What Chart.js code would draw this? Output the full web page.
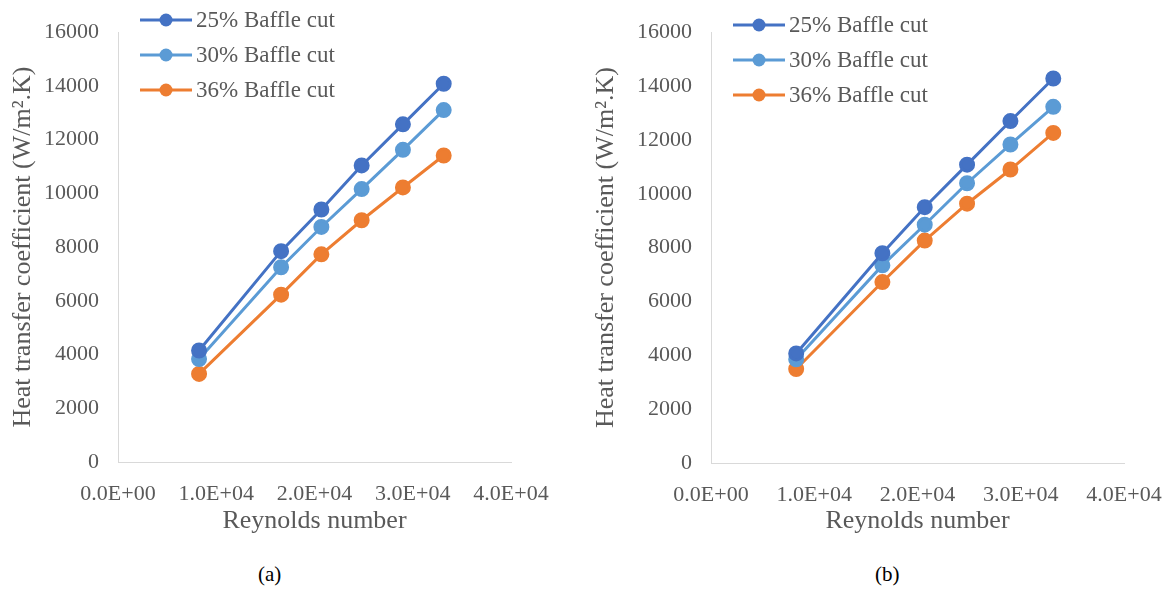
<!DOCTYPE html>
<html>
<head>
<meta charset="utf-8">
<script src="https://cdn.jsdelivr.net/npm/chart.js@4.4.0/dist/chart.umd.min.js"></script>
<style>
  body { margin: 0; background: #fff; width: 1171px; height: 592px; overflow: hidden; position: relative; }
  .box { position: absolute; top: 0; height: 545px; }
  #boxA { left: 0; width: 580px; }
  #boxB { left: 580px; width: 591px; }
  .cap { position: absolute; top: 562px; font: 21px "Liberation Serif", serif; color: #000; }
</style>
</head>
<body>
<div class="box" id="boxA"><canvas id="chartA"></canvas></div>
<div class="box" id="boxB"><canvas id="chartB"></canvas></div>
<div class="cap" style="left:258px">(a)</div>
<div class="cap" style="left:875px">(b)</div>
<script>
// data
const seriesNames = ["25% Baffle cut", "30% Baffle cut", "36% Baffle cut"];
const reynolds = [8250, 16600, 20700, 24800, 29000, 33150];

// (a)
const a25 = [4150, 7850, 9400, 11040, 12570, 14080];
const a30 = [3830, 7250, 8750, 10160, 11620, 13100];
const a36 = [3280, 6230, 7730, 9000, 10220, 11410];

// (b)
const b25 = [4070, 7790, 9500, 11080, 12700, 14280];
const b30 = [3850, 7340, 8850, 10390, 11830, 13230];
const b36 = [3490, 6720, 8260, 9630, 10900, 12260];

const xTicks = [0, 10000, 20000, 30000, 40000];
const colors = ["#4472C4", "#5B9BD5", "#ED7D31"];
const textGray = "#595959";
const serif = "'Liberation Serif', 'Times New Roman', serif";

function toPoints(ys) {
  return reynolds.map((x, i) => ({ x: x, y: ys[i] }));
}

// legend drawn inside the plot, Excel style
const insideLegend = {
  id: "insideLegend",
  afterDraw(chart, args, opts) {
    const ctx = chart.ctx;
    ctx.save();
    chart.data.datasets.forEach((ds, i) => {
      const y = opts.y + i * opts.gap;
      ctx.strokeStyle = ds.borderColor;
      ctx.lineWidth = 3;
      ctx.beginPath();
      ctx.moveTo(opts.x, y);
      ctx.lineTo(opts.x + 52, y);
      ctx.stroke();
      ctx.fillStyle = ds.borderColor;
      ctx.beginPath();
      ctx.arc(opts.x + 26, y, 6.5, 0, Math.PI * 2);
      ctx.fill();
      ctx.fillStyle = textGray;
      ctx.font = "23px " + serif;
      ctx.textBaseline = "middle";
      ctx.fillText(ds.label, opts.x + 56, y + 1);
    });
    ctx.restore();
  },
};

function makeChart(id, data, geo) {
  return new Chart(document.getElementById(id), {
    type: "scatter",
    data: {
      datasets: data.map((ys, i) => ({
        label: seriesNames[i],
        data: toPoints(ys),
        showLine: true,
        borderColor: colors[i],
        backgroundColor: colors[i],
        borderWidth: 3,
        pointRadius: 6.5,
        pointHoverRadius: 6.5,
      })),
    },
    options: {
      responsive: true,
      maintainAspectRatio: false,
      animation: false,
      layout: { padding: { top: geo.top, right: geo.right, bottom: 0, left: 0 } },
      plugins: {
        legend: { display: false },
        tooltip: { enabled: false },
        insideLegend: geo.legend,
      },
      scales: {
        x: {
          min: 0,
          max: 40000,
          afterBuildTicks: (scale) => {
            scale.ticks = xTicks.map((v) => ({ value: v }));
          },
          afterFit: (scale) => {
            scale.height = geo.xh;
            scale.paddingLeft = 0;
            scale.paddingRight = 0;
          },
          grid: { display: false, drawTicks: false },
          border: { display: true, color: "#d9d9d9", width: 1 },
          ticks: {
            padding: 19,
            maxRotation: 0,
            color: textGray,
            font: { family: serif, size: 22 },
            callback: (v) => (v / 10000).toFixed(1) + "E+0" + (v === 0 ? "0" : "4"),
          },
          title: {
            display: true,
            text: "Reynolds number",
            color: textGray,
            font: { family: serif, size: 26 },
            padding: { top: geo.xtp, bottom: geo.xtp },
          },
        },
        y: {
          min: 0,
          max: 16000,
          afterFit: (scale) => {
            scale.width = geo.yw;
          },
          grid: { display: false, drawTicks: false },
          border: { display: true, color: "#d9d9d9", width: 1 },
          ticks: {
            stepSize: 2000,
            padding: 19,
            color: textGray,
            font: { family: serif, size: 22 },
            callback: (v) => String(v),
          },
          title: {
            display: true,
            text: "Heat transfer coefficient (W/m\u00b2.K)",
            color: textGray,
            font: { family: serif, size: 26 },
            padding: { top: geo.ytp, bottom: geo.ytp },
          },
        },
      },
    },
    plugins: [insideLegend],
  });
}

makeChart("chartA", [a25, a30, a36], {
  top: 23, right: 69, xh: 83, yw: 118, xtp: 8, ytp: 8,
  legend: { x: 140, y: 20, gap: 35 },
});
makeChart("chartB", [b25, b30, b36], {
  top: 27, right: 47, xh: 82, yw: 131, xtp: 8, ytp: 11,
  legend: { x: 153, y: 25, gap: 35 },
});
</script>
</body>
</html>
